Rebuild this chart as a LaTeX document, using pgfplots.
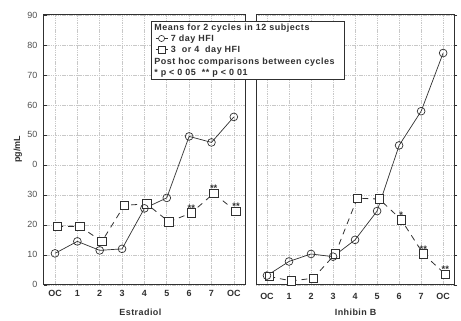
\documentclass[border=0pt]{standalone}
\usepackage{pgfplots}
\pgfplotsset{compat=1.18}
\usepackage{fontspec}
\setmainfont{Liberation Sans}
\definecolor{ink}{HTML}{303030}
\definecolor{gridc}{HTML}{C8C8C8}
\pgfplotsset{
  panel/.style={
    scale only axis, width=200pt, height=271pt,
    xmin=-0.5, xmax=8.5, ymin=0, ymax=90,
    xtick={0,...,8}, xticklabels={OC,1,2,3,4,5,6,7,OC},
    ytick={0,10,...,90},
    grid=major,
    major grid style={gridc, line width=0.6pt, dash pattern=on 1.5pt off 0.8pt},
    axis line style={ink, line width=0.9pt},
    xtick style={draw=none},
    ytick style={ink, line width=0.6pt},
    major tick length=3pt,
    xticklabel style={font=\fontsize{9}{10}\selectfont\bfseries, text=ink, yshift=-2pt},
    yticklabel style={font=\fontsize{9}{10}\selectfont, text=ink!85, xshift=-3pt},
    clip=false,
  },
  circ/.style={ink, line width=0.7pt, mark=o, mark size=3.9pt, mark options={solid, fill=white, draw=ink, line width=0.7pt}},
  sq/.style={ink, line width=0.8pt, dash pattern=on 6pt off 5pt, mark=square*, mark size=4.3pt,
    mark options={solid, fill=white, draw=ink, line width=0.7pt},
    nodes near coords, point meta=explicit symbolic,
    every node near coord/.style={anchor=south, inner sep=0pt, yshift=1.2pt, font=\fontsize{9.5}{9.5}\selectfont\bfseries, text=ink}},
}
\begin{document}
\begin{tikzpicture}[x=1pt,y=1pt]
\path (0,0) rectangle (461,322);
\begin{axis}[panel, at={(44pt,36pt)}, anchor=south west, width=202pt,
  ytick pos=left, tick align=inside,
  yticklabels={0,10,20,30,0,50,60,70,80,90}]
\addplot[sq] coordinates {
 (0.1,19.5)[] (1.1,19.5)[] (2.1,14.5)[] (3.1,26.5)[] (4.1,27)[] (5.1,21)[] (6.1,24)[**] (7.1,30.5)[**] (8.1,24.5)[**]
};
\addplot[circ] coordinates {
 (0,10.5) (1,14.5) (2,11.5) (3,12) (4,25.5) (5,29) (6,49.5) (7,47.5) (8,56)
};
\end{axis}
\begin{axis}[panel, at={(257pt,36pt)}, anchor=south west, width=199pt,
  ytick pos=right, tick align=outside, yticklabels={}]
\addplot[sq] coordinates {
 (0.1,2.8)[] (1.1,1.3)[] (2.1,2.2)[] (3.1,10.3)[] (4.1,28.9)[] (5.1,28.6)[] (6.1,21.7)[*] (7.1,10.3)[**] (8.1,3.5)[**]
};
\addplot[circ] coordinates {
 (0,3.1) (1,7.8) (2,10.3) (3,9.4) (4,15) (5,24.6) (6,46.5) (7,57.9) (8,77.3)
};
\end{axis}
\node[font=\fontsize{9}{10}\selectfont\bfseries\addfontfeature{LetterSpace=5}, text=ink] at (141,8) {Estradiol};
\node[font=\fontsize{9}{10}\selectfont\bfseries\addfontfeature{LetterSpace=5}, text=ink] at (357,8) {Inhibin B};
\node[font=\fontsize{9}{10}\selectfont\bfseries, text=ink, rotate=90] at (18,172) {pg/mL};
\node[draw=ink, line width=0.8pt, fill=white, anchor=north west, inner sep=2.5pt,
  text width=188pt, align=left, font=\fontsize{9}{11.3}\selectfont\bfseries\addfontfeature{LetterSpace=6}, text=ink]
  at (152,301) {Means for 2 cycles in 12 subjects\\
  \hspace*{1pt}\tikz[baseline=-0.65ex]{\draw[ink,line width=0.6pt] (0,0)--(12pt,0); \draw[ink,fill=white,line width=0.6pt] (6pt,0) circle (3.1pt);}\ 7 day HFI\\
  \hspace*{1pt}\tikz[baseline=-0.65ex]{\draw[ink,line width=0.6pt] (0,0)--(12pt,0); \draw[ink,fill=white,line width=0.6pt] (2.6pt,-3.4pt) rectangle (9.4pt,3.4pt);}\ 3 \ or 4 \ day HFI\\
  Post hoc comparisons between cycles\\
  {*} p < 0 05 \ {**} p < 0 01};
\end{tikzpicture}
\end{document}
